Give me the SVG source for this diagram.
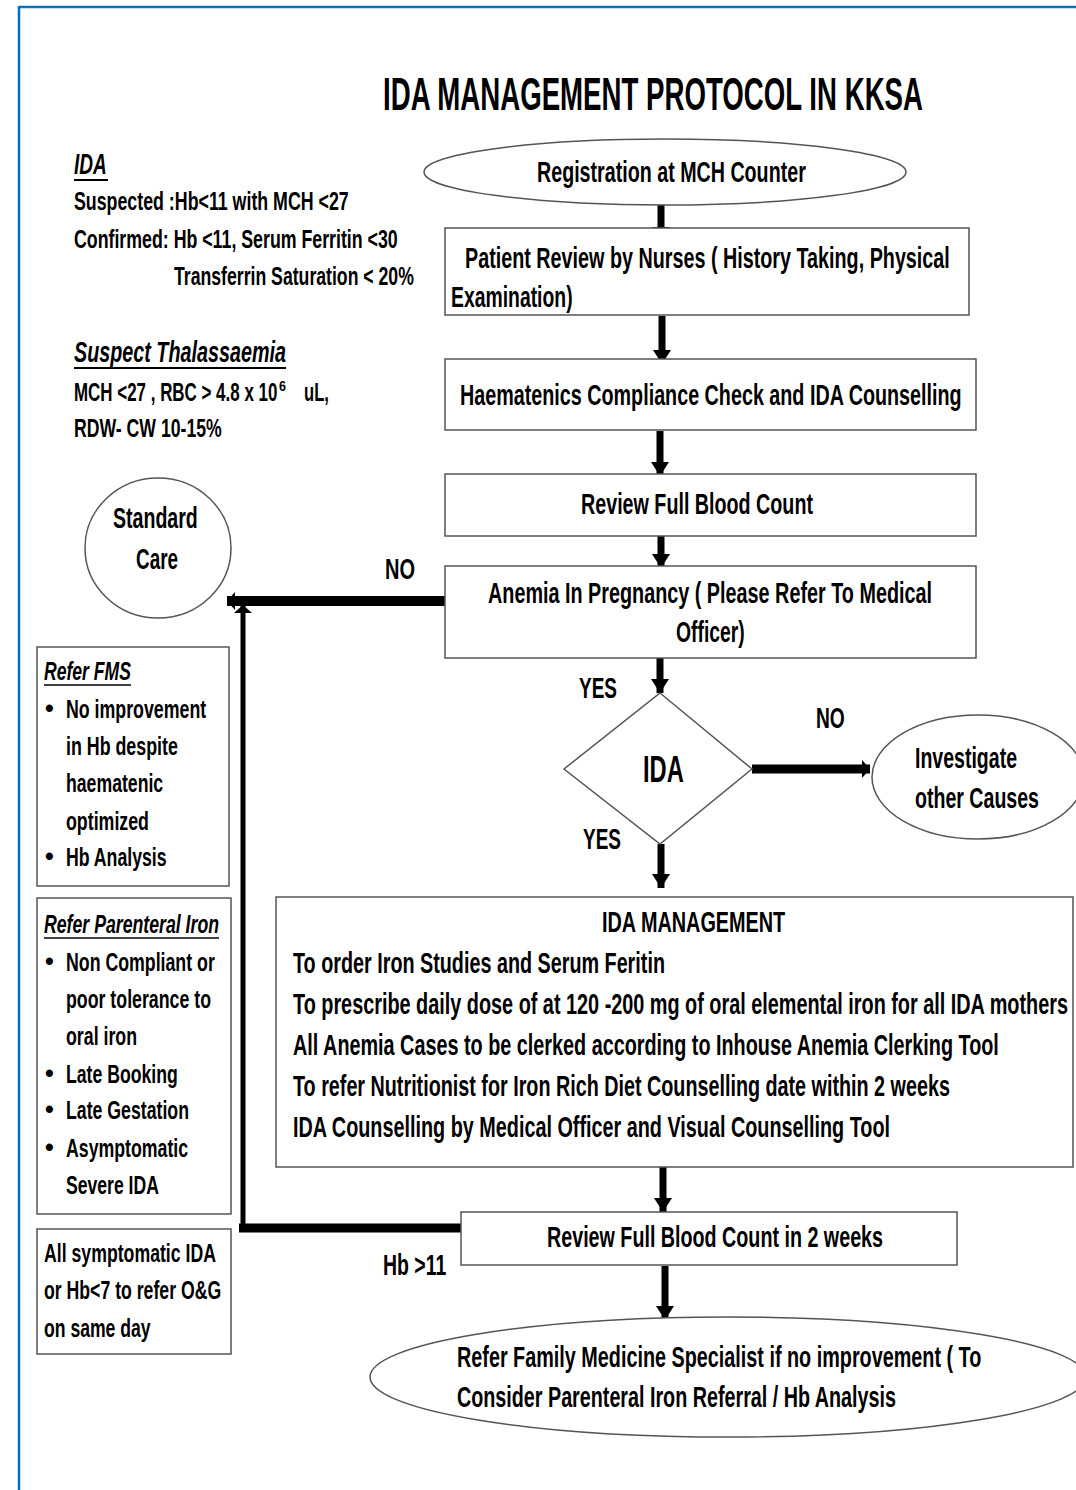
<svg xmlns="http://www.w3.org/2000/svg" width="1076" height="1490" viewBox="0 0 1076 1490">
<style>
.t{font-family:"Liberation Sans Narrow","Liberation Sans",Arial,sans-serif;font-weight:bold;fill:#000}
.m{font-size:30px}
.s{font-size:26px}
.b{font-size:25px}
.i{font-style:italic}
.box{fill:#fff;stroke:#555;stroke-width:1.5}
.frame{stroke:#0070C0;stroke-width:2.5;fill:none}
.c{stroke:#000;fill:none}
</style>
<defs>
<marker id="ah" markerUnits="userSpaceOnUse" markerWidth="20" markerHeight="18" refX="14" refY="9" orient="auto">
<path d="M0,0 L14,9 L0,18 Z" fill="#000"/>
</marker>
<marker id="ahs" markerUnits="userSpaceOnUse" markerWidth="10" markerHeight="18" refX="8" refY="9" orient="auto">
<path d="M0,0 L8,9 L0,18 Z" fill="#000"/>
</marker>
</defs>
<rect width="1076" height="1490" fill="#fff"/>
<g id="frame">
<line class="frame" x1="19" y1="7" x2="1076" y2="7"/>
<line class="frame" x1="19" y1="6" x2="19" y2="1490"/>
</g>
<g id="title">
<text class="t" font-size="47" transform="matrix(0.72 0 0 1 383 110)" textLength="750" lengthAdjust="spacingAndGlyphs">IDA MANAGEMENT PROTOCOL IN KKSA</text>
</g>
<g id="ida-definition">
<text class="t i" font-size="30" transform="matrix(0.8 0 0 1 74 174)" textLength="41" lengthAdjust="spacingAndGlyphs">IDA</text>
<line x1="74" y1="180" x2="108" y2="180" stroke="#000" stroke-width="2"/>
<text class="t s" transform="matrix(0.83 0 0 1 74 210)" textLength="331" lengthAdjust="spacingAndGlyphs">Suspected :Hb&lt;11 with MCH &lt;27</text>
<text class="t s" transform="matrix(0.83 0 0 1 74 248)" textLength="390" lengthAdjust="spacingAndGlyphs">Confirmed: Hb &lt;11, Serum Ferritin &lt;30</text>
<text class="t s" transform="matrix(0.83 0 0 1 174 285)" textLength="289" lengthAdjust="spacingAndGlyphs">Transferrin Saturation &lt; 20%</text>
</g>
<g id="thalassaemia">
<text class="t i" font-size="30" transform="matrix(0.8 0 0 1 74 362)" textLength="265" lengthAdjust="spacingAndGlyphs">Suspect Thalassaemia</text>
<line x1="74" y1="368" x2="286" y2="368" stroke="#000" stroke-width="2"/>
<text class="t s" transform="matrix(0.83 0 0 1 74 401)" textLength="245" lengthAdjust="spacingAndGlyphs">MCH &lt;27 , RBC &gt; 4.8 x 10</text>
<text class="t" font-size="15" transform="matrix(0.83 0 0 1 279 391)">6</text>
<text class="t s" transform="matrix(0.83 0 0 1 304 401)" textLength="30" lengthAdjust="spacingAndGlyphs">uL,</text>
<text class="t s" transform="matrix(0.83 0 0 1 74 437)" textLength="178" lengthAdjust="spacingAndGlyphs">RDW- CW 10-15%</text>
</g>
<g id="connectors">
<line class="c" x1="661" y1="205" x2="661" y2="241" stroke-width="7" marker-end="url(#ah)"/>
<line class="c" x1="662" y1="316" x2="662" y2="364" stroke-width="7" marker-end="url(#ah)"/>
<line class="c" x1="660" y1="431" x2="660" y2="476" stroke-width="7" marker-end="url(#ah)"/>
<line class="c" x1="661" y1="536" x2="661" y2="568" stroke-width="7" marker-end="url(#ah)"/>
<line class="c" x1="660" y1="645" x2="660" y2="693" stroke-width="7" marker-end="url(#ah)"/>
<line class="c" x1="661" y1="844" x2="661" y2="888" stroke-width="7" marker-end="url(#ah)"/>
<line class="c" x1="663" y1="1167" x2="663" y2="1212" stroke-width="7" marker-end="url(#ah)"/>
<line class="c" x1="665" y1="1266" x2="665" y2="1320" stroke-width="7" marker-end="url(#ah)"/>
<line class="c" x1="451" y1="601" x2="227" y2="601" stroke-width="10" marker-end="url(#ahs)"/>
<line class="c" x1="752" y1="769" x2="870" y2="769" stroke-width="9" marker-end="url(#ahs)"/>
<line class="c" x1="461" y1="1228" x2="239" y2="1228" stroke-width="9"/>
<line class="c" x1="243" y1="1232" x2="243" y2="605" stroke-width="5" marker-end="url(#ahs)"/>
</g>
<g id="registration">
<ellipse class="box" cx="665" cy="172" rx="241" ry="33"/>
<text class="t m" transform="matrix(0.8 0 0 1 537 182)" textLength="336" lengthAdjust="spacingAndGlyphs">Registration at MCH Counter</text>
</g>
<g id="patient-review">
<rect class="box" x="445" y="228" width="524" height="87"/>
<text class="t m" transform="matrix(0.8 0 0 1 465 268)" textLength="606" lengthAdjust="spacingAndGlyphs">Patient Review by Nurses ( History Taking, Physical</text>
<text class="t m" transform="matrix(0.8 0 0 1 451 307)" textLength="152" lengthAdjust="spacingAndGlyphs">Examination)</text>
</g>
<g id="haematenics">
<rect class="box" x="445" y="359" width="531" height="71"/>
<text class="t m" transform="matrix(0.8 0 0 1 460 405)" textLength="627" lengthAdjust="spacingAndGlyphs">Haematenics Compliance Check and IDA Counselling</text>
</g>
<g id="review-fbc">
<rect class="box" x="445" y="474" width="531" height="62"/>
<text class="t m" transform="matrix(0.8 0 0 1 581 514)" textLength="290" lengthAdjust="spacingAndGlyphs">Review Full Blood Count</text>
</g>
<g id="anemia-pregnancy">
<rect class="box" x="445" y="566" width="531" height="92"/>
<text class="t m" transform="matrix(0.8 0 0 1 488 603)" textLength="555" lengthAdjust="spacingAndGlyphs">Anemia In Pregnancy ( Please Refer To Medical</text>
<text class="t m" transform="matrix(0.8 0 0 1 676 642)" textLength="86" lengthAdjust="spacingAndGlyphs">Officer)</text>
</g>
<g id="labels">
<text class="t m" transform="matrix(0.8 0 0 1 385 579)" textLength="37.5" lengthAdjust="spacingAndGlyphs">NO</text>
<text class="t m" transform="matrix(0.8 0 0 1 579 698)" textLength="47.5" lengthAdjust="spacingAndGlyphs">YES</text>
<text class="t m" transform="matrix(0.8 0 0 1 816 728)" textLength="36" lengthAdjust="spacingAndGlyphs">NO</text>
<text class="t m" transform="matrix(0.8 0 0 1 583 849)" textLength="47.5" lengthAdjust="spacingAndGlyphs">YES</text>
<text class="t m" transform="matrix(0.8 0 0 1 383 1275)" textLength="79" lengthAdjust="spacingAndGlyphs">Hb &gt;11</text>
</g>
<g id="standard-care">
<ellipse class="box" cx="158" cy="548" rx="73" ry="70"/>
<text class="t m" transform="matrix(0.8 0 0 1 113 528)" textLength="106" lengthAdjust="spacingAndGlyphs">Standard</text>
<text class="t m" transform="matrix(0.8 0 0 1 136 569)" textLength="52.5" lengthAdjust="spacingAndGlyphs">Care</text>
</g>
<g id="ida-decision">
<polygon class="box" points="660,693 752,769 660,844 564,769"/>
<text class="t" font-size="37" transform="matrix(0.8 0 0 1 643 782)" textLength="51" lengthAdjust="spacingAndGlyphs">IDA</text>
</g>
<g id="investigate">
<ellipse class="box" cx="978" cy="777" rx="106" ry="62"/>
<text class="t m" transform="matrix(0.8 0 0 1 915 768)" textLength="127.5" lengthAdjust="spacingAndGlyphs">Investigate</text>
<text class="t m" transform="matrix(0.8 0 0 1 915 808)" textLength="155" lengthAdjust="spacingAndGlyphs">other Causes</text>
</g>
<g id="ida-management">
<rect class="box" x="276" y="897" width="797" height="270"/>
<text class="t m" transform="matrix(0.8 0 0 1 602 932)" textLength="229" lengthAdjust="spacingAndGlyphs">IDA MANAGEMENT</text>
<text class="t m" transform="matrix(0.68 0 0 1 293 973)" textLength="547" lengthAdjust="spacingAndGlyphs">To order Iron Studies and Serum Feritin</text>
<text class="t m" transform="matrix(0.62 0 0 1 293 1014)" textLength="1250" lengthAdjust="spacingAndGlyphs">To prescribe daily dose of at  120 -200 mg of oral elemental iron for all IDA mothers</text>
<text class="t m" transform="matrix(0.68 0 0 1 293 1055)" textLength="1038" lengthAdjust="spacingAndGlyphs">All Anemia Cases to be clerked according to Inhouse Anemia Clerking Tool</text>
<text class="t m" transform="matrix(0.68 0 0 1 293 1096)" textLength="966" lengthAdjust="spacingAndGlyphs">To refer Nutritionist for Iron Rich Diet Counselling date within 2 weeks</text>
<text class="t m" transform="matrix(0.68 0 0 1 293 1137)" textLength="878" lengthAdjust="spacingAndGlyphs">IDA Counselling by Medical Officer and Visual Counselling Tool</text>
</g>
<g id="review-fbc-2weeks">
<rect class="box" x="461" y="1212" width="496" height="53"/>
<text class="t m" transform="matrix(0.8 0 0 1 547 1247)" textLength="420" lengthAdjust="spacingAndGlyphs">Review Full Blood Count in 2 weeks</text>
</g>
<g id="refer-fms-specialist">
<ellipse class="box" cx="728" cy="1377" rx="358" ry="60"/>
<text class="t m" transform="matrix(0.7 0 0 1 457 1367)" textLength="749" lengthAdjust="spacingAndGlyphs">Refer Family Medicine Specialist if no improvement ( To</text>
<text class="t m" transform="matrix(0.7 0 0 1 457 1407)" textLength="627" lengthAdjust="spacingAndGlyphs">Consider Parenteral Iron Referral / Hb Analysis</text>
</g>
<g id="refer-fms">
<rect class="box" x="37" y="647" width="192" height="239"/>
<text class="t b i" transform="matrix(0.86 0 0 1 44 680)" textLength="101" lengthAdjust="spacingAndGlyphs">Refer FMS</text>
<line x1="44" y1="685" x2="131" y2="685" stroke="#000" stroke-width="1.5"/>
<text class="t b" x="45" y="717">•</text>
<text class="t b" transform="matrix(0.86 0 0 1 66 718)" textLength="163" lengthAdjust="spacingAndGlyphs">No improvement</text>
<text class="t b" transform="matrix(0.86 0 0 1 66 755)" textLength="130" lengthAdjust="spacingAndGlyphs">in Hb despite</text>
<text class="t b" transform="matrix(0.86 0 0 1 66 792)" textLength="113" lengthAdjust="spacingAndGlyphs">haematenic</text>
<text class="t b" transform="matrix(0.86 0 0 1 66 830)" textLength="96.5" lengthAdjust="spacingAndGlyphs">optimized</text>
<text class="t b" x="45" y="865">•</text>
<text class="t b" transform="matrix(0.86 0 0 1 66 866)" textLength="117" lengthAdjust="spacingAndGlyphs">Hb Analysis</text>
</g>
<g id="refer-parenteral">
<rect class="box" x="37" y="898" width="194" height="316"/>
<text class="t b i" transform="matrix(0.86 0 0 1 44 933)" textLength="203.5" lengthAdjust="spacingAndGlyphs">Refer Parenteral Iron</text>
<line x1="44" y1="938" x2="219" y2="938" stroke="#000" stroke-width="1.5"/>
<text class="t b" x="45" y="970">•</text>
<text class="t b" transform="matrix(0.86 0 0 1 66 971)" textLength="173" lengthAdjust="spacingAndGlyphs">Non Compliant or</text>
<text class="t b" transform="matrix(0.86 0 0 1 66 1008)" textLength="168.6" lengthAdjust="spacingAndGlyphs">poor tolerance to</text>
<text class="t b" transform="matrix(0.86 0 0 1 66 1045)" textLength="82.6" lengthAdjust="spacingAndGlyphs">oral iron</text>
<text class="t b" x="45" y="1082">•</text>
<text class="t b" transform="matrix(0.86 0 0 1 66 1083)" textLength="130" lengthAdjust="spacingAndGlyphs">Late Booking</text>
<text class="t b" x="45" y="1118">•</text>
<text class="t b" transform="matrix(0.86 0 0 1 66 1119)" textLength="143" lengthAdjust="spacingAndGlyphs">Late Gestation</text>
<text class="t b" x="45" y="1156">•</text>
<text class="t b" transform="matrix(0.86 0 0 1 66 1157)" textLength="142" lengthAdjust="spacingAndGlyphs">Asymptomatic</text>
<text class="t b" transform="matrix(0.86 0 0 1 66 1194)" textLength="108" lengthAdjust="spacingAndGlyphs">Severe IDA</text>
</g>
<g id="symptomatic">
<rect class="box" x="37" y="1229" width="194" height="125"/>
<text class="t b" transform="matrix(0.86 0 0 1 44 1262)" textLength="200" lengthAdjust="spacingAndGlyphs">All symptomatic IDA</text>
<text class="t b" transform="matrix(0.86 0 0 1 44 1299)" textLength="206" lengthAdjust="spacingAndGlyphs">or Hb&lt;7 to refer O&amp;G</text>
<text class="t b" transform="matrix(0.86 0 0 1 44 1337)" textLength="124" lengthAdjust="spacingAndGlyphs">on same day</text>
</g>
</svg>
